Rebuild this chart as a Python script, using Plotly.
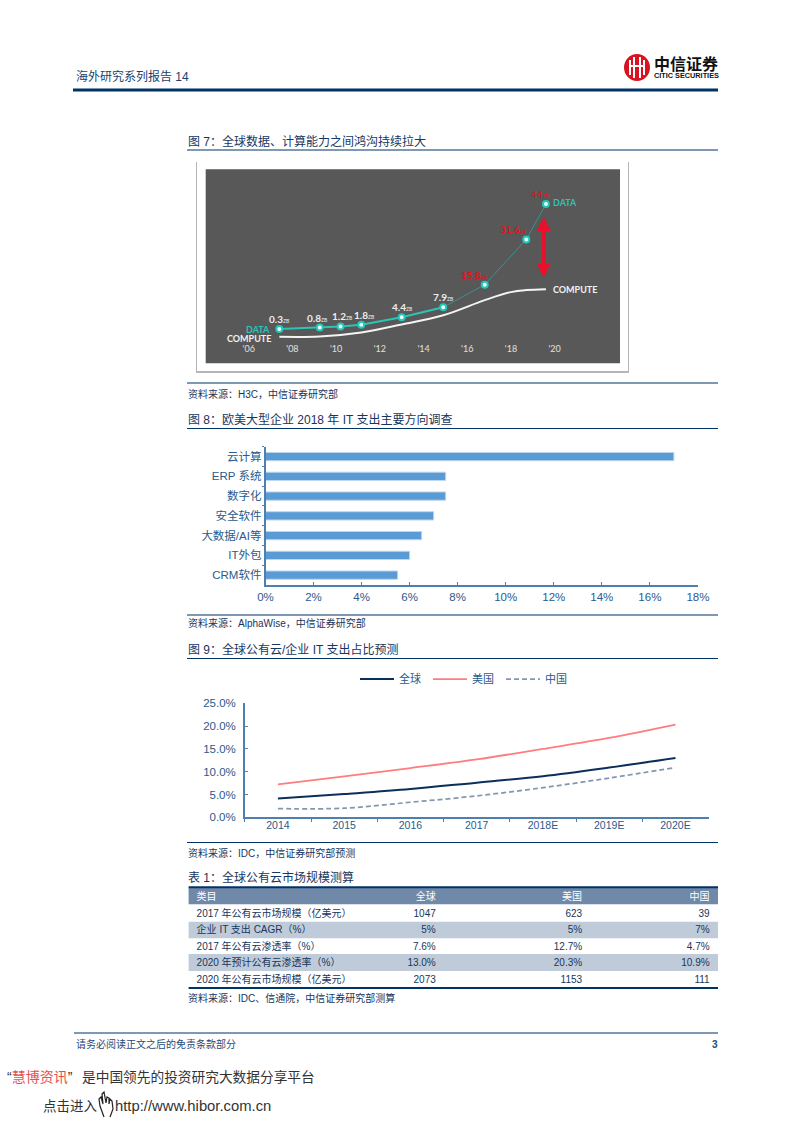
import plotly.graph_objects as go

W, H = 793, 1122
FONT = "Liberation Sans, Noto Sans CJK SC, sans-serif"
NAVY = "#003366"
TEXT = "#1f4a7a"

# fig 7
data_years = [2007.4, 2009.25, 2010.2, 2011.15, 2013.0, 2014.9, 2016.8, 2018.7, 2019.6]
data_zb = [0.3, 0.8, 1.2, 1.8, 4.4, 7.9, 15.8, 31.6, 44]
compute_years = [2007.4, 2009.25, 2011.15, 2013.0, 2014.9, 2016.8, 2018.0, 2018.7, 2019.6]
compute_zb = [-2.4, -2.3, -0.9, 1.9, 5.1, 10.4, 13.2, 13.9, 14.2]
year_ticks = [2006, 2008, 2010, 2012, 2014, 2016, 2018, 2020]
year_labels = ["'06", "'08", "'10", "'12", "'14", "'16", "'18", "'20"]

# fig 8
spend_cats = ["云计算", "ERP 系统", "数字化", "安全软件", "大数据/AI等", "IT外包", "CRM软件"]
spend_vals = [17, 7.5, 7.5, 7, 6.5, 6, 5.5]

# fig 9
cloud_years = ["2014", "2015", "2016", "2017", "2018E", "2019E", "2020E"]
cloud_global = [4.1, 5.1, 6.2, 7.6, 9.0, 10.9, 13.0]
cloud_us = [7.2, 9.0, 10.8, 12.7, 15.0, 17.4, 20.3]
cloud_china = [1.9, 2.0, 3.3, 4.7, 6.5, 8.6, 10.9]

# table 1
table_head = ["类目", "全球", "美国", "中国"]
table_items = ["2017 年公有云市场规模（亿美元）", "企业 IT 支出 CAGR（%）", "2017 年公有云渗透率（%）",
               "2020 年预计公有云渗透率（%）", "2020 年公有云市场规模（亿美元）"]
table_global = ["1047", "5%", "7.6%", "13.0%", "2073"]
table_us = ["623", "5%", "12.7%", "20.3%", "1153"]
table_china = ["39", "7%", "4.7%", "10.9%", "111"]


def px(x):
    return x / W


def py(y):
    return 1 - y / H


def label(x, y, s, size=10, color=TEXT, anchor="left"):
    # annotations carry about 2px of padding, pull the text back onto x
    shift = -2 if anchor == "left" else 2
    return dict(xref="paper", yref="paper", x=px(x), y=py(y), text=s, showarrow=False, xshift=shift,
                xanchor=anchor, yanchor="middle", font=dict(size=size, color=color, family=FONT))


def rule(x0, x1, y, width=1, color=NAVY):
    return dict(type="line", xref="paper", yref="paper", x0=px(x0), x1=px(x1), y0=py(y), y1=py(y),
                line=dict(color=color, width=width))


def box(x0, y0, x1, y1, fill, layer="below"):
    return dict(type="rect", xref="paper", yref="paper", x0=px(x0), x1=px(x1), y0=py(y0), y1=py(y1),
                fillcolor=fill, line=dict(width=0), layer=layer)


fig = go.Figure()

# fig 7 traces
fig.add_trace(go.Scatter(x=compute_years, y=compute_zb, mode="lines", xaxis="x", yaxis="y", showlegend=False,
                         line=dict(color="#f4f4f4", width=2, shape="spline")))
fig.add_trace(go.Scatter(x=data_years[5:], y=data_zb[5:], mode="lines", xaxis="x", yaxis="y", showlegend=False,
                         line=dict(color="#3f8f8a", width=1)))
fig.add_trace(go.Scatter(x=data_years[:6], y=data_zb[:6], mode="lines", xaxis="x", yaxis="y", showlegend=False,
                         line=dict(color="#2cc4b6", width=2)))
fig.add_trace(go.Scatter(x=data_years, y=data_zb, mode="markers", xaxis="x", yaxis="y", showlegend=False,
                         marker=dict(size=6, color="#e6fffb", line=dict(color="#22c8ba", width=2))))

# fig 8 bars
fig.add_trace(go.Bar(x=spend_vals, y=spend_cats, orientation="h", xaxis="x2", yaxis="y2", showlegend=False,
                     width=0.42, marker=dict(color="#5b9bd5", line=dict(color="#bdd7ee", width=1))))

# fig 9 lines
fig.add_trace(go.Scatter(x=cloud_years, y=cloud_global, mode="lines", name="全球", xaxis="x3", yaxis="y3",
                         line=dict(color="#0b2f5b", width=2, shape="spline")))
fig.add_trace(go.Scatter(x=cloud_years, y=cloud_us, mode="lines", name="美国", xaxis="x3", yaxis="y3",
                         line=dict(color="#ff7c80", width=1.75, shape="spline")))
fig.add_trace(go.Scatter(x=cloud_years, y=cloud_china, mode="lines", name="中国", xaxis="x3", yaxis="y3",
                         line=dict(color="#8497b0", width=1.75, dash="5px,3px", shape="spline")))

# table 1, bands are drawn as shapes so the cells stay transparent
clear = "rgba(0,0,0,0)"
fig.add_trace(go.Table(
    domain=dict(x=[px(188.6), px(718)], y=[py(987), py(884.2)]),
    columnwidth=[195, 60.4, 146.5, 127.6],
    header=dict(values=table_head, align=["left", "right", "right", "right"], height=16.8,
                fill_color=clear, line=dict(width=0, color=clear),
                font=dict(size=10, color="white", family=FONT)),
    cells=dict(values=[table_items, table_global, table_us, table_china],
               align=["left", "right", "right", "right"], height=16.6,
               line=dict(width=0, color=clear), fill_color=clear,
               font=dict(size=10, color="#17365d", family=FONT)),
))

shapes = [
    rule(73, 718, 90, 3),
    # logo
    dict(type="circle", xref="paper", yref="paper", x0=px(624), x1=px(650), y0=py(81), y1=py(54),
         fillcolor="#d9121f", line=dict(width=0)),
    box(629, 60, 631, 75, "white", "above"),
    box(633, 57, 635, 78, "white", "above"),
    box(639, 57, 641, 78, "white", "above"),
    box(643, 60, 645, 75, "white", "above"),
    box(631, 65, 643, 67, "white", "above"),
    # fig 7 card
    box(196, 162, 629, 373, "#b5b5b5"),
    box(197, 161, 628, 371, "#ffffff"),
    box(205.7, 169.3, 620, 363.3, "#585858"),
    # table bands
    box(188.6, 887.7, 718, 904.3, "#7189a8"),
    box(188.6, 921.7, 718, 938.3, "#bfcbd9"),
    box(188.6, 954, 718, 971, "#bfcbd9"),
    rule(187, 718, 150),
    rule(187, 718, 383),
    rule(187, 718, 428.5),
    rule(187, 718, 615),
    rule(187, 718, 658.5),
    rule(187, 718, 842.5),
    rule(188.6, 718, 887.3, 2),
    rule(188.6, 718, 988, 2),
    rule(74, 718, 1033),
    # pointer icon in the footer
    dict(type="path", xref="paper", yref="paper", line=dict(color="#222222", width=1.2),
         path=" ".join(f"{c}{px(a)},{py(b)}" for c, a, b in [
             ("M", 104, 1117), ("L", 100, 1106), ("L", 99, 1099), ("L", 101, 1097), ("L", 103, 1104),
             ("L", 102, 1094), ("L", 104, 1092), ("L", 106, 1103), ("L", 107, 1097), ("L", 109, 1098),
             ("L", 109, 1104), ("L", 110, 1099), ("L", 112, 1101), ("L", 113, 1109), ("L", 110, 1117)])),
]

DATA_LBL = "Lato, DejaVu Sans, sans-serif"
data_text = ["0.3", "0.8", "1.2", "1.8", "4.4", "7.9", "15.8", "31.6", "44"]
data_colors = ["#eeeeee"] * 6 + ["#e0121f"] * 3
data_xshift = [0, -3, 1, 3, 0, 0, -11, -13, -6]

annotations = [
    label(76, 77, "海外研究系列报告 14", 12, "#1b3f6b"),
    label(654, 64, "<b>中信证券</b>", 16, "#111111"),
    label(654, 75.5, "<b>CITIC SECURITIES</b>", 7.3, "#111111"),
    label(188, 141, "图 7：全球数据、计算能力之间鸿沟持续拉大", 12, "#17365d"),
    label(188, 394, "资料来源：H3C，中信证券研究部", 10, "#17365d"),
    label(188, 420, "图 8：欧美大型企业 2018 年 IT 支出主要方向调查", 12, "#17365d"),
    label(188, 623, "资料来源：AlphaWise，中信证券研究部", 10, "#17365d"),
    label(188, 649, "图 9：全球公有云/企业 IT 支出占比预测", 12, "#17365d"),
    label(188, 852.5, "资料来源：IDC，中信证券研究部预测", 10, "#17365d"),
    label(188, 877, "表 1：全球公有云市场规模测算", 12, "#17365d"),
    label(188, 998, "资料来源：IDC、信通院，中信证券研究部测算", 10, "#17365d"),
    label(76, 1044, "请务必阅读正文之后的免责条款部分", 10, "#1f4a7a"),
    label(718, 1044, "<b>3</b>", 10, "#1f4a7a", "right"),
    label(7, 1077, '“<span style="color:#e8504f">慧博资讯</span>”', 14, "#333333"),
    label(82, 1077, "是中国领先的投资研究大数据分享平台", 13.7, "#333333"),
    label(43, 1106, "点击进入", 13.5, "#333333"),
    label(114.5, 1106, "http://www.hibor.com.cn", 14.8, "#333333"),
]

# fig 7 labels, tied to the data scale
for yr, zb, s, c, dx in zip(data_years, data_zb, data_text, data_colors, data_xshift):
    annotations.append(dict(xref="x", yref="y", x=yr, y=zb, xshift=dx, yshift=10, showarrow=False,
                            text=f'<b>{s}</b><span style="font-size:5px">ZB</span>',
                            font=dict(size=10, color=c, family=DATA_LBL)))
for s, c, x, y, anchor in [("DATA", "#2cc4b6", 270, 329, "right"), ("COMPUTE", "#f2f2f2", 270.5, 338, "right"),
                           ("DATA", "#2cc4b6", 553, 203, "left"), ("COMPUTE", "#f2f2f2", 553, 289, "left")]:
    annotations.append(dict(xref="paper", yref="paper", x=px(x), y=py(y), text=f"<b>{s}</b>", showarrow=False,
                            xshift=-2 if anchor == "left" else 2,
                            xanchor=anchor, yanchor="middle", font=dict(size=9, color=c, family=DATA_LBL)))
# gap arrow between the two curves
annotations.append(dict(xref="x", yref="y", axref="x", ayref="y", x=2019.5, y=39.5, ax=2019.5, ay=17.8, text="",
                        showarrow=True, arrowside="end+start", arrowhead=2, arrowsize=0.8, arrowwidth=3.5,
                        arrowcolor="#e8102a"))

AX_BLUE = "#4f7fae"
fig.update_layout(
    width=W, height=H, margin=dict(l=0, r=0, t=0, b=0, autoexpand=False), autosize=False,
    paper_bgcolor="white", plot_bgcolor="rgba(0,0,0,0)",
    font=dict(family=FONT, color=TEXT),
    shapes=shapes, annotations=annotations,
    bargap=0.5,
    xaxis=dict(domain=[px(205.7), px(620)], range=[2004.03, 2022.99], tickvals=year_ticks, ticktext=year_labels,
               showgrid=False, zeroline=False, showline=False, ticks="",
               tickfont=dict(size=9, color="#e0e0e0", family=DATA_LBL)),
    yaxis=dict(domain=[py(342), py(169.3)], range=[-4.24, 56.14], visible=False),
    xaxis2=dict(domain=[px(265.5), px(697.9)], range=[0, 18], tick0=0, dtick=2, ticksuffix="%", showgrid=False,
                zeroline=False, showline=True, linecolor=AX_BLUE, linewidth=1.5, ticks="inside", ticklen=3,
                tickcolor=AX_BLUE, anchor="y2", tickfont=dict(size=11.5, color="#2b5a8c")),
    yaxis2=dict(domain=[py(585), py(446.7)], range=[6.5, -0.5], type="category", categoryorder="array",
                categoryarray=spend_cats, showgrid=False, showline=True, linecolor=AX_BLUE, linewidth=1.5,
                ticks="outside", ticklen=2, tickcolor=AX_BLUE, tickson="boundaries", anchor="x2",
                tickfont=dict(size=11.5, color="#2b5a8c")),
    xaxis3=dict(domain=[px(244.8), px(708.6)], type="category", categoryorder="array", categoryarray=cloud_years,
                range=[-0.5, 6.5], showgrid=False, showline=True, linecolor=AX_BLUE, linewidth=1.5,
                ticks="outside", ticklen=3, tickcolor=AX_BLUE, tickson="boundaries", anchor="y3",
                ticklabelstandoff=-3, tickfont=dict(size=10.5, color="#2b5a8c")),
    yaxis3=dict(domain=[py(817.3), py(703.3)], range=[0, 25], tick0=0, dtick=5, tickformat=".1f", ticksuffix="%",
                showgrid=False, zeroline=False, showline=True, linecolor=AX_BLUE, linewidth=1.5, ticks="inside",
                ticklen=3, tickcolor=AX_BLUE, anchor="x3", ticklabelstandoff=5,
                tickfont=dict(size=11.5, color="#2b5a8c")),
    legend=dict(orientation="h", xref="paper", yref="paper", x=px(355), y=py(679), xanchor="left", yanchor="middle",
                itemwidth=34, entrywidthmode="pixels", entrywidth=24, traceorder="normal",
                bgcolor="rgba(0,0,0,0)", font=dict(size=11, color="#2b5a8c")),
)

fig.write_html("out.html", config=dict(displayModeBar=False), post_script="document.body.style.margin='0';")
